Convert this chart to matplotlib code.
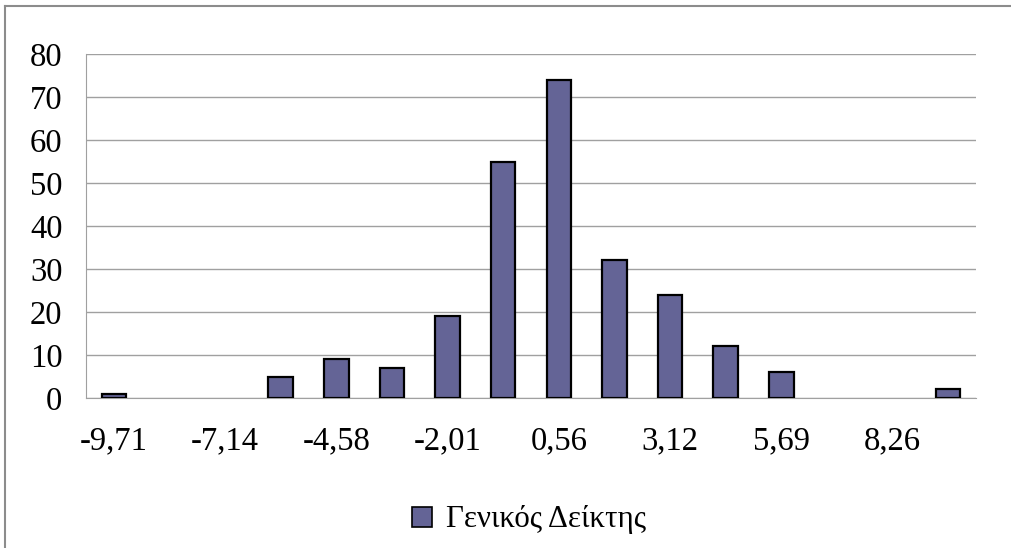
import matplotlib
matplotlib.use("Agg")
import matplotlib.pyplot as plt
from matplotlib.lines import Line2D

categories = ["-9,71", "-8,43", "-7,14", "-5,86", "-4,58", "-3,29", "-2,01", "-0,73",
              "0,56", "1,84", "3,12", "4,41", "5,69", "6,97", "8,26", "9,54"]
values = [1, 0, 0, 5, 9, 7, 19, 55, 74, 32, 24, 12, 6, 0, 0, 2]
series_name = "Γενικός Δείκτης"
yticks = [0, 10, 20, 30, 40, 50, 60, 70, 80]

plt.rcParams['font.family'] = ['Liberation Serif', 'DejaVu Serif']

W, H = 1011, 548
fig = plt.figure(figsize=(W / 100, H / 100), dpi=100)
left, right, top, bottom = 86, 976, 54, 398
ax = fig.add_axes([left / W, 1 - bottom / H, (right - left) / W, (bottom - top) / H])

x = list(range(len(categories)))
bar_color = "#646496"
lws = [1.6 if v > 0 else 0 for v in values]
ax.bar(x, values, width=0.44, color=bar_color, edgecolor="black", linewidth=lws, zorder=3)

ax.set_xlim(-0.5, len(categories) - 0.5)
ax.set_ylim(0, 80)
ax.set_yticks(yticks)
ax.set_yticklabels([str(v) for v in yticks], fontsize=23.5)
ax.set_xticks(x[::2])
ax.set_xticklabels(categories[::2], fontsize=23.5)
ax.tick_params(axis='both', length=0)
ax.tick_params(axis='y', pad=17)
ax.tick_params(axis='x', pad=20)
ax.grid(axis='y', color="#a0a0a0", linewidth=1, zorder=0)
for s in ['top', 'right']:
    ax.spines[s].set_visible(False)
ax.spines['left'].set_color("#a0a0a0")
ax.spines['bottom'].set_color("#a0a0a0")

# legend
handle = plt.Rectangle((0, 0), 1, 1, facecolor=bar_color, edgecolor="black", linewidth=1.2)
fig.legend([handle], [series_name], loc='center', bbox_to_anchor=(529 / W, 1 - 520 / H),
           frameon=False, fontsize=22.3, handlelength=0.62, handleheight=0.62,
           handletextpad=0.45, borderpad=0)

# chart border
fig.add_artist(Line2D([5 / W, 1], [1 - 6 / H, 1 - 6 / H], color="#8c8c8c", linewidth=1.5))
fig.add_artist(Line2D([5 / W, 5 / W], [0, 1 - 6 / H], color="#8c8c8c", linewidth=1.5))

fig.savefig("out.png", dpi=100)
